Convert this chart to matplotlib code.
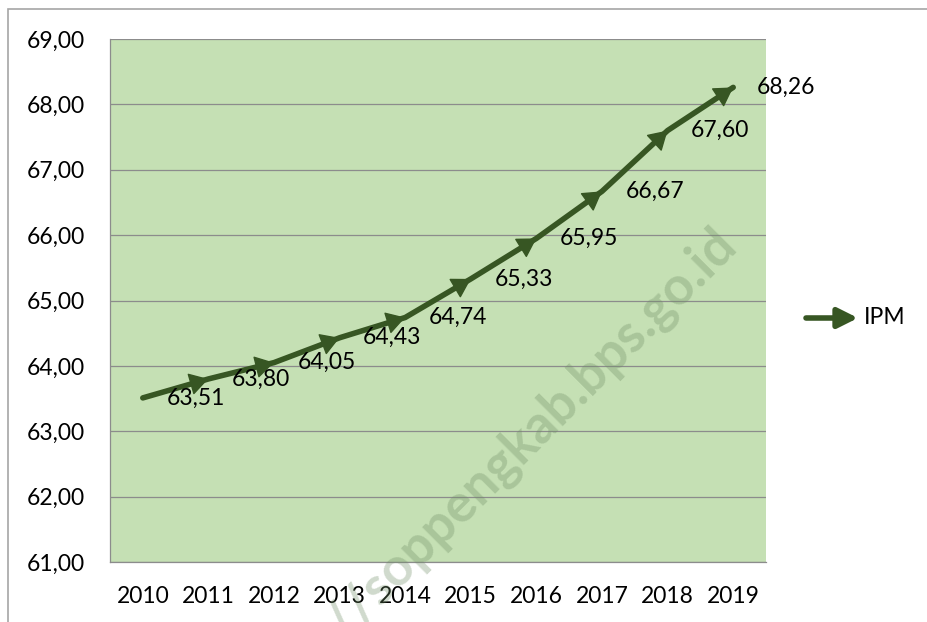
import matplotlib.pyplot as plt
from matplotlib.patches import Rectangle

plt.rcParams['font.family'] = ['Lato', 'DejaVu Sans']

# data
years = ['2010', '2011', '2012', '2013', '2014', '2015', '2016', '2017', '2018', '2019']
ipm = [63.51, 63.80, 64.05, 64.43, 64.74, 65.33, 65.95, 66.67, 67.60, 68.26]
yticks = [61, 62, 63, 64, 65, 66, 67, 68, 69]

line_col = '#375623'
bg_col = '#c5e0b4'
grid_col = '#8c8c8c'

fig = plt.figure(figsize=(9.27, 6.22), dpi=100)
ax = fig.add_axes([110/927, 1-562/622, 656/927, 523/622])
ax.set_facecolor(bg_col)

x = list(range(len(years)))
ax.plot(x, ipm, color=line_col, lw=4, solid_capstyle='round', zorder=3)
# arrow head at the end of every segment
for i in range(len(x) - 1):
    ax.annotate('', xy=(x[i+1], ipm[i+1]), xytext=(x[i], ipm[i]),
                arrowprops=dict(arrowstyle='-|>,head_length=0.6,head_width=0.36',
                                mutation_scale=20, lw=1, color=line_col,
                                shrinkA=0, shrinkB=0), zorder=4)

# data labels to the right of each point
for xi, v in zip(x, ipm):
    ax.annotate(f"{v:.2f}".replace('.', ','), (xi, v), xytext=(17, 0),
                textcoords='offset points', ha='left', va='center',
                fontsize=16.5, color='black', zorder=5, annotation_clip=False)

ax.set_xlim(-0.5, len(years) - 0.5)
ax.set_ylim(61, 69)
ax.set_xticks(x)
ax.set_xticklabels(years)
ax.set_yticks(yticks)
ax.set_yticklabels([f"{t:.2f}".replace('.', ',') for t in yticks])
ax.tick_params(length=0, labelsize=16.5)
ax.tick_params(axis='y', pad=18)
ax.tick_params(axis='x', pad=17)
ax.grid(axis='y', color=grid_col, lw=0.9)
ax.set_axisbelow(True)
for s in ['top', 'right']:
    ax.spines[s].set_visible(False)
for s in ['left', 'bottom']:
    ax.spines[s].set_color(grid_col)
    ax.spines[s].set_linewidth(0.9)

# legend
ax.annotate('', xy=(858/927, 1-318/622), xytext=(806/927, 1-318/622),
            xycoords='figure fraction', textcoords='figure fraction',
            arrowprops=dict(arrowstyle='-|>,head_length=0.6,head_width=0.3',
                            mutation_scale=20, lw=4, color=line_col,
                            shrinkA=0, shrinkB=0, capstyle='round'))
fig.text(864/927, 1-318/622, 'IPM', fontsize=16.5, ha='left', va='center')

# chart border
fig.add_artist(Rectangle((8/927, -0.1), 1.2, 1.1 - 9/622, transform=fig.transFigure,
                         fill=False, edgecolor='#a6a6a6', lw=1.2))

# watermark
fig.text(492/927, 1-472/622, 'http://soppengkab.bps.go.id', rotation=45,
         fontsize=38, fontweight='bold', color='#6e8c64', alpha=0.32,
         ha='center', va='center', rotation_mode='anchor', zorder=10)

fig.savefig('out.png', dpi=100)
